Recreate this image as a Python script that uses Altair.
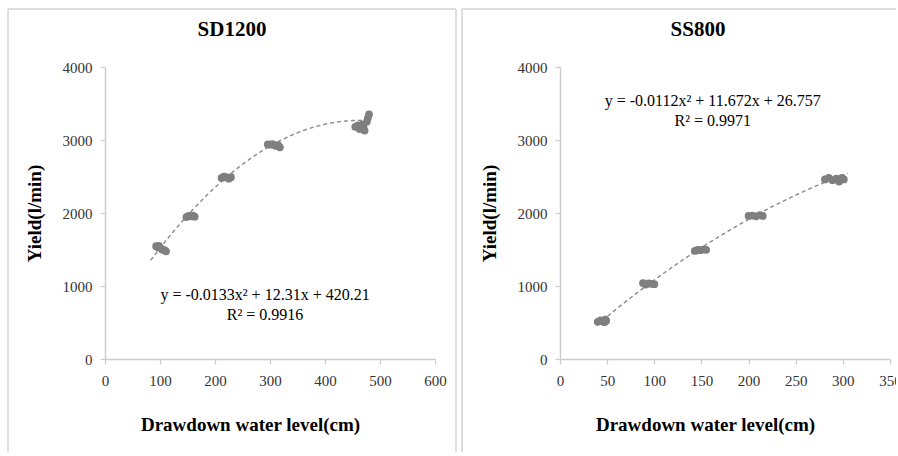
import altair as alt
import pandas as pd

# --- SD1200 measurements (drawdown in cm, yield in l/min) ---
sd_drawdown = [93, 96, 98, 101, 104, 108, 111,
               148, 152, 156, 160, 163,
               212, 216, 220, 225, 229,
               296, 300, 305, 310, 315, 318,
               455, 460, 463, 468, 470, 472, 476, 478, 480]
sd_yield = [1545, 1530, 1550, 1520, 1500, 1490, 1475,
            1945, 1960, 1955, 1965, 1950,
            2480, 2500, 2490, 2470, 2490,
            2940, 2935, 2945, 2920, 2930, 2900,
            3180, 3200, 3150, 3210, 3190, 3130, 3250, 3300, 3350]

# --- SS800 measurements ---
ss_drawdown = [40, 43, 45, 47, 48, 49,
               88, 91, 94, 97, 100,
               143, 146, 149, 152, 155,
               200, 204, 208, 212, 215,
               281, 285, 289, 293, 296, 299, 301]
ss_yield = [510, 530, 520, 505, 540, 525,
            1040, 1020, 1035, 1030, 1025,
            1480, 1495, 1490, 1500, 1495,
            1960, 1965, 1955, 1970, 1960,
            2460, 2480, 2450, 2470, 2430, 2480, 2460]

# Polynomial trend coefficients (a, b, c) and their printed forms
sd_coef = [-0.0133, 12.31, 420.21]
ss_coef = [-0.0112, 11.672, 26.757]
sd_labels = ["y = -0.0133x\u00b2 + 12.31x + 420.21", "R\u00b2 = 0.9916"]
ss_labels = ["y = -0.0112x\u00b2 + 11.672x + 26.757", "R\u00b2 = 0.9971"]

# Trend line extents along the drawdown axis
sd_extent = [83, 483]
ss_extent = [39, 305]

SERIF = "Liberation Serif"
GRAY = "#7f7f7f"
FRAME = "#d4d4d4"
W, H = 330, 292


def panel(title, xs, ys, coef, extent, x_max, x_step, labels, label_pos, frame_left, frame_right, title_x, show_right_edge):
    pts = pd.DataFrame({"x": xs, "y": ys})
    xscale = alt.Scale(domain=[0, x_max], nice=False, zero=True)
    yscale = alt.Scale(domain=[0, 4000], nice=False)
    xaxis = alt.Axis(
        values=list(range(0, x_max + 1, x_step)), format="d", title="Drawdown water level(cm)",
        titleX=145, titleY=65, titleBaseline="middle", labelPadding=9, labelFlush=False,
    )
    yaxis = alt.Axis(
        values=[0, 1000, 2000, 3000, 4000], format="d", title="Yield(l/min)",
        titleX=-71, titleY=H / 2, titleBaseline="middle", titleAlign="center", titleAngle=270,
        labelPadding=8, labelFlush=False,
    )

    a, b, c = coef
    trend = (
        alt.Chart(alt.sequence(extent[0], extent[1] + 1, 1, as_="x"))
        .transform_calculate(y=f"{a}*datum.x*datum.x + {b}*datum.x + {c}")
        .mark_line(color="#8a8a8a", strokeDash=[4, 3], strokeWidth=1.4)
        .encode(x=alt.X("x:Q", scale=xscale, axis=xaxis), y=alt.Y("y:Q", scale=yscale, axis=yaxis))
    )
    points = (
        alt.Chart(pts)
        .mark_circle(color=GRAY, size=60, opacity=1)
        .encode(x=alt.X("x:Q", scale=xscale), y=alt.Y("y:Q", scale=yscale))
    )
    eq = (
        alt.Chart()
        .mark_text(font=SERIF, fontSize=16, color="#000000", lineHeight=20, baseline="top", align="center")
        .encode(x=alt.datum(label_pos[0], scale=xscale), y=alt.datum(label_pos[1], scale=yscale), text=alt.value(labels))
    )
    heading = (
        alt.Chart()
        .mark_text(font=SERIF, fontSize=21, fontWeight="bold", color="#000000", baseline="middle", align="center")
        .encode(x=alt.value(title_x), y=alt.value(-37), text=alt.value(title))
    )

    # panel border lines
    top_y = -58
    bottom_y = 452 - 67
    frame_layers = [
        alt.Chart().mark_rule(color=FRAME, strokeWidth=1.5).encode(
            x=alt.value(frame_left), x2=alt.value(frame_right), y=alt.value(top_y)),
        alt.Chart().mark_rule(color=FRAME, strokeWidth=1.5).encode(
            x=alt.value(frame_left), y=alt.value(top_y), y2=alt.value(bottom_y)),
    ]
    if show_right_edge:
        frame_layers.append(
            alt.Chart().mark_rule(color=FRAME, strokeWidth=1.5).encode(
                x=alt.value(frame_right), y=alt.value(top_y), y2=alt.value(bottom_y)))

    return alt.layer(*frame_layers, trend, points, eq, heading).properties(width=W, height=H)


left = panel("SD1200", sd_drawdown, sd_yield, sd_coef, sd_extent, 600, 100, sd_labels, (291, 990),
             -97, 351, 127, True)
right = panel("SS800", ss_drawdown, ss_yield, ss_coef, ss_extent, 350, 50, ss_labels, (162, 3640),
              -98, 336, 138, False)

chart = (
    alt.hconcat(left, right, spacing=125, bounds="flush")
    .properties(padding={"left": 7, "top": 8, "right": -6, "bottom": 0})
    .configure_view(stroke=None)
    .configure_axis(
        grid=False, domainColor="#cccccc", domainWidth=1.5, tickColor="#cccccc", tickWidth=1.2,
        tickSize=5, labelFont=SERIF, labelFontSize=15, labelColor="#333333",
        titleFont=SERIF, titleFontSize=19, titleFontWeight="bold", titleColor="#000000",
    )
)

chart.save("out.html", embed_options={"renderer": "svg", "actions": False})
